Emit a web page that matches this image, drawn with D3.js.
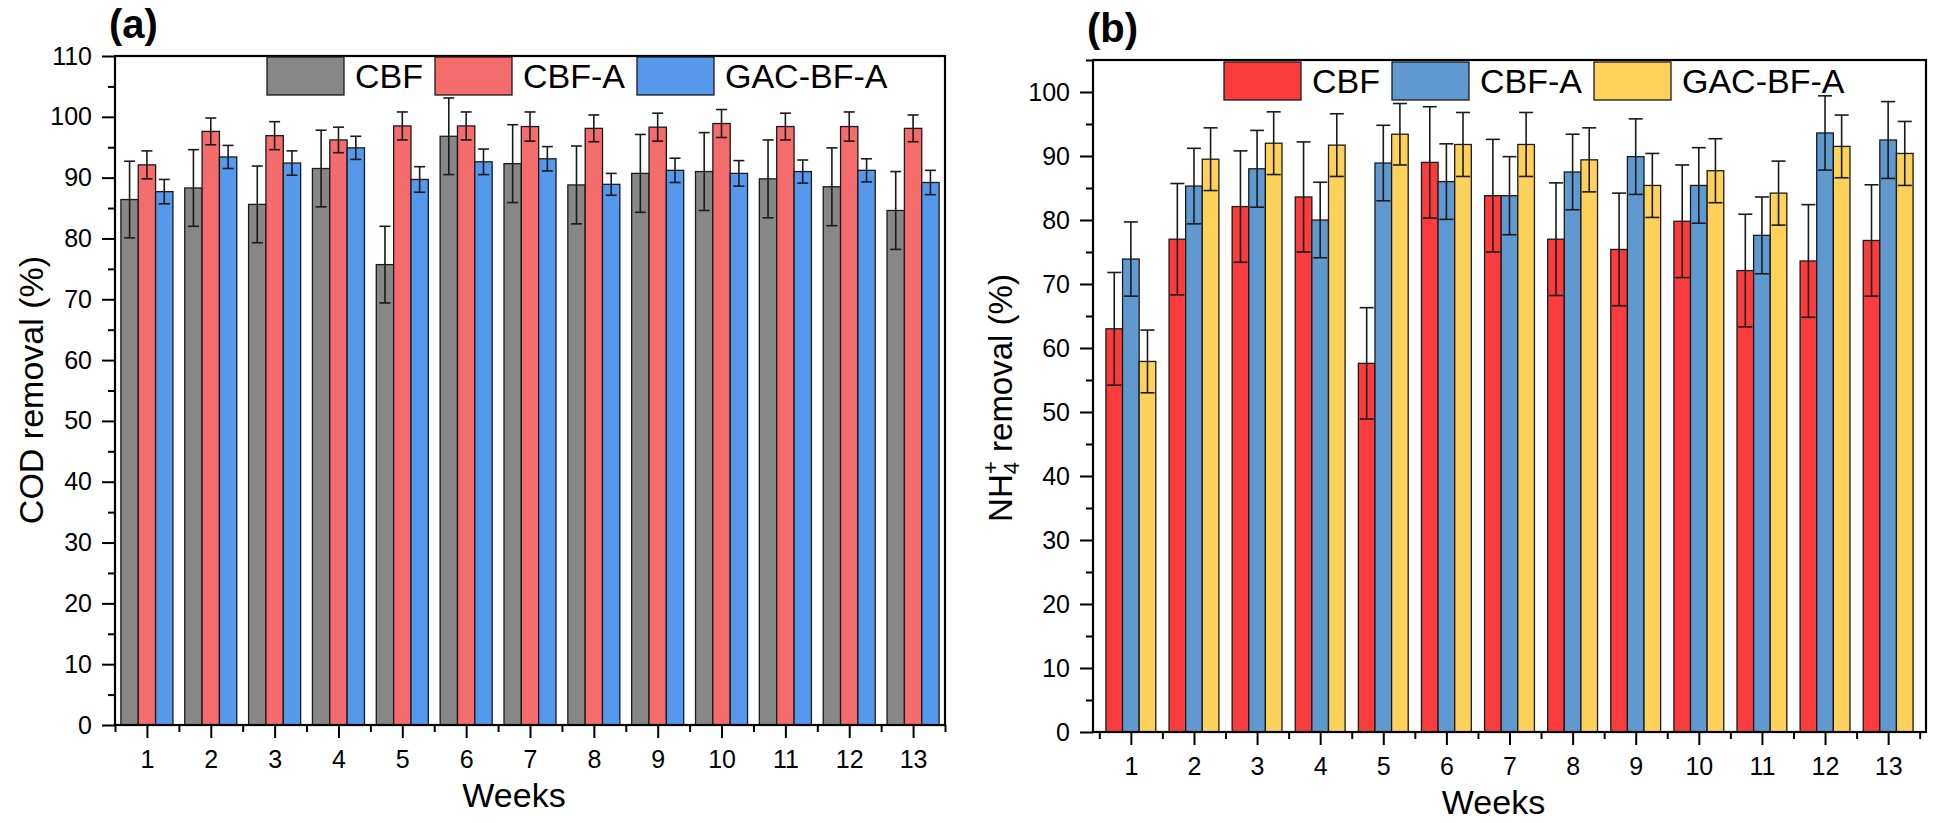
<!DOCTYPE html>
<html>
<head>
<meta charset="utf-8">
<script src="https://cdn.jsdelivr.net/npm/d3@7/dist/d3.min.js"></script>
<style>
  body { margin: 0; background: #fff; }
  svg { font-family: "Liberation Sans", Arial, sans-serif; }
</style>
</head>
<body>
<svg id="chart" width="1939" height="823"></svg>
<script>
// weeks on the x axis
var weeks = [1, 2, 3, 4, 5, 6, 7, 8, 9, 10, 11, 12, 13];
var seriesNames = ["CBF", "CBF-A", "GAC-BF-A"];

// (a) COD removal (%)
var codCBF = [86.4, 88.3, 85.6, 91.5, 75.7, 96.8, 92.3, 88.8, 90.7, 91.0, 89.8, 88.5, 84.6];
var codCBFErr = [6.3, 6.3, 6.3, 6.3, 6.3, 6.3, 6.4, 6.4, 6.4, 6.4, 6.4, 6.4, 6.4];
var codCBFA = [92.1, 97.6, 96.9, 96.2, 98.5, 98.5, 98.4, 98.1, 98.3, 98.9, 98.4, 98.4, 98.1];
var codCBFAErr = [2.3, 2.2, 2.3, 2.1, 2.3, 2.3, 2.4, 2.2, 2.3, 2.3, 2.2, 2.4, 2.2];
var codGAC = [87.7, 93.4, 92.4, 94.9, 89.7, 92.6, 93.1, 88.9, 91.2, 90.7, 91.0, 91.2, 89.2];
var codGACErr = [2.0, 1.9, 2.0, 1.9, 2.1, 2.1, 2.0, 1.8, 2.0, 2.1, 1.9, 1.9, 2.0];

// (b) NH4+ removal (%)
var nhCBF = [63.0, 77.0, 82.1, 83.6, 57.6, 89.0, 83.8, 77.0, 75.4, 79.8, 72.1, 73.6, 76.8];
var nhCBFErr = [8.8, 8.7, 8.7, 8.6, 8.7, 8.7, 8.8, 8.8, 8.8, 8.8, 8.8, 8.8, 8.7];
var nhCBFA = [73.9, 85.3, 88.0, 80.0, 88.9, 86.0, 83.8, 87.5, 89.9, 85.4, 77.6, 93.6, 92.5];
var nhCBFAErr = [5.8, 5.9, 6.0, 5.9, 5.9, 5.9, 6.1, 5.9, 5.9, 5.9, 6.0, 5.8, 6.0];
var nhGAC = [57.9, 89.5, 92.0, 91.7, 93.4, 91.8, 91.8, 89.4, 85.4, 87.7, 84.2, 91.5, 90.4];
var nhGACErr = [4.9, 4.9, 4.9, 4.9, 4.8, 5.0, 5.0, 5.0, 5.0, 5.0, 5.0, 4.9, 5.0];

var svg = d3.select("#chart");

function drawPanel(p) {
    var x = d3.scaleLinear().domain(p.xDomain).range([p.left, p.right]);
    var y = d3.scaleLinear().domain(p.yDomain).range([p.bottom, p.top]);
    var step = x(2) - x(1);
    var bw = step * p.groupFrac / 3;

    var g = svg.append("g");

    // bars
    p.series.forEach(function (s, i) {
        var rows = weeks.map(function (w, j) {
            return { w: w, v: s.values[j], e: s.errors[j] };
        });
        var offset = (i - 1) * bw;

        g.selectAll(".bar" + i)
            .data(rows)
            .enter()
            .append("rect")
            .attr("x", function (d) { return x(d.w) + offset - bw / 2; })
            .attr("y", function (d) { return y(d.v); })
            .attr("width", bw)
            .attr("height", function (d) { return y(0) - y(d.v); })
            .attr("fill", p.colors[i])
            .attr("stroke", "#1a1a1a")
            .attr("stroke-width", 1.3);
    });

    // error bars on top
    p.series.forEach(function (s, i) {
        var rows = weeks.map(function (w, j) {
            return { w: w, v: s.values[j], e: s.errors[j] };
        });
        var offset = (i - 1) * bw;
        var eg = g.selectAll(".err" + i)
            .data(rows)
            .enter()
            .append("g")
            .attr("stroke", "#1a1a1a")
            .attr("stroke-width", 1.6);
        eg.append("line")
            .attr("x1", function (d) { return x(d.w) + offset; })
            .attr("x2", function (d) { return x(d.w) + offset; })
            .attr("y1", function (d) { return y(d.v - d.e); })
            .attr("y2", function (d) { return y(d.v + d.e); });
        [1, -1].forEach(function (sign) {
            eg.append("line")
                .attr("x1", function (d) { return x(d.w) + offset - p.cap / 2; })
                .attr("x2", function (d) { return x(d.w) + offset + p.cap / 2; })
                .attr("y1", function (d) { return y(d.v + sign * d.e); })
                .attr("y2", function (d) { return y(d.v + sign * d.e); });
        });
    });

    // axes: major + minor ticks
    var yMajor = d3.range(p.yDomain[0], p.yDomain[1] + 0.1, 10);
    var yMinor = d3.range(5, p.yDomain[1] + 0.1, 10);
    var xMinor = d3.range(0.5, 13.6, 1);

    var yAx = g.append("g").attr("transform", "translate(" + p.left + ",0)")
        .call(d3.axisLeft(y).tickValues(yMajor).tickSize(13).tickPadding(10).tickFormat(d3.format("d")));
    g.append("g").attr("transform", "translate(" + p.left + ",0)")
        .call(d3.axisLeft(y).tickValues(yMinor).tickSize(7).tickFormat(""));
    var xAx = g.append("g").attr("transform", "translate(0," + p.bottom + ")")
        .call(d3.axisBottom(x).tickValues(weeks).tickSize(13).tickPadding(12).tickFormat(function (d, i) { return weeks[i]; }));
    g.append("g").attr("transform", "translate(0," + p.bottom + ")")
        .call(d3.axisBottom(x).tickValues(xMinor).tickSize(7).tickFormat(""));

    g.selectAll(".domain").remove();
    g.selectAll(".tick line").attr("stroke", "#000").attr("stroke-width", 2);
    yAx.selectAll("text").attr("font-size", 25).attr("fill", "#000")
        .attr("font-family", "Liberation Sans, Arial, sans-serif");
    xAx.selectAll("text").attr("font-size", 25).attr("fill", "#000")
        .attr("font-family", "Liberation Sans, Arial, sans-serif");

    // frame
    g.append("rect")
        .attr("x", p.left).attr("y", p.top)
        .attr("width", p.right - p.left).attr("height", p.bottom - p.top)
        .attr("fill", "none").attr("stroke", "#000").attr("stroke-width", 2.2);

    // axis titles
    g.append("text")
        .attr("x", (p.left + p.right) / 2 - 16)
        .attr("y", p.bottom + 82)
        .attr("text-anchor", "middle")
        .attr("font-size", 34)
        .text("Weeks");

    var yt = g.append("text")
        .attr("transform", "translate(" + p.yTitleX + "," + p.yTitleY + ") rotate(-90)")
        .attr("text-anchor", "middle")
        .attr("font-size", p.yTitleSize);
    p.yTitle(yt);

    // panel letter
    g.append("text")
        .attr("x", p.left - 6)
        .attr("y", p.top - 18)
        .attr("font-size", 40)
        .attr("font-weight", "bold")
        .text(p.letter);

    // legend
    var lx = p.legendX;
    seriesNames.forEach(function (name, i) {
        g.append("rect")
            .attr("x", lx).attr("y", p.legendY)
            .attr("width", 77).attr("height", 38)
            .attr("fill", p.colors[i])
            .attr("stroke", "#1a1a1a").attr("stroke-width", 1.3);
        var t = g.append("text")
            .attr("x", lx + 88)
            .attr("y", p.legendY + 31)
            .attr("font-size", 34)
            .text(name);
        lx = lx + 88 + t.node().getComputedTextLength() + 12;
    });
}

drawPanel({
    letter: "(a)",
    left: 115, right: 945, top: 56, bottom: 725,
    xDomain: [0.5, 13.5], yDomain: [0, 110],
    groupFrac: 0.815, cap: 11,
    colors: ["#878787", "#f46c6c", "#5698ec"],
    series: [
        { values: codCBF, errors: codCBFErr },
        { values: codCBFA, errors: codCBFAErr },
        { values: codGAC, errors: codGACErr }
    ],
    legendX: 267, legendY: 57,
    yTitleX: 43, yTitleY: 390, yTitleSize: 34,
    yTitle: function (t) { t.text("COD removal (%)"); }
});

drawPanel({
    letter: "(b)",
    left: 1093, right: 1926, top: 60, bottom: 732,
    xDomain: [0.4, 13.6], yDomain: [0, 105],
    groupFrac: 0.79, cap: 14,
    colors: ["#fa3c3c", "#5f99d0", "#fed25a"],
    series: [
        { values: nhCBF, errors: nhCBFErr },
        { values: nhCBFA, errors: nhCBFAErr },
        { values: nhGAC, errors: nhGACErr }
    ],
    legendX: 1224, legendY: 62,
    yTitleX: 1012, yTitleY: 398, yTitleSize: 33,
    yTitle: function (t) {
        t.append("tspan").text("NH");
        t.append("tspan").attr("font-size", 22).attr("dy", 7).text("4");
        t.append("tspan").attr("font-size", 22).attr("dx", -12).attr("dy", -21).text("+");
        t.append("tspan").attr("dy", 14).text(" removal (%)");
    }
});
</script>
</body>
</html>
